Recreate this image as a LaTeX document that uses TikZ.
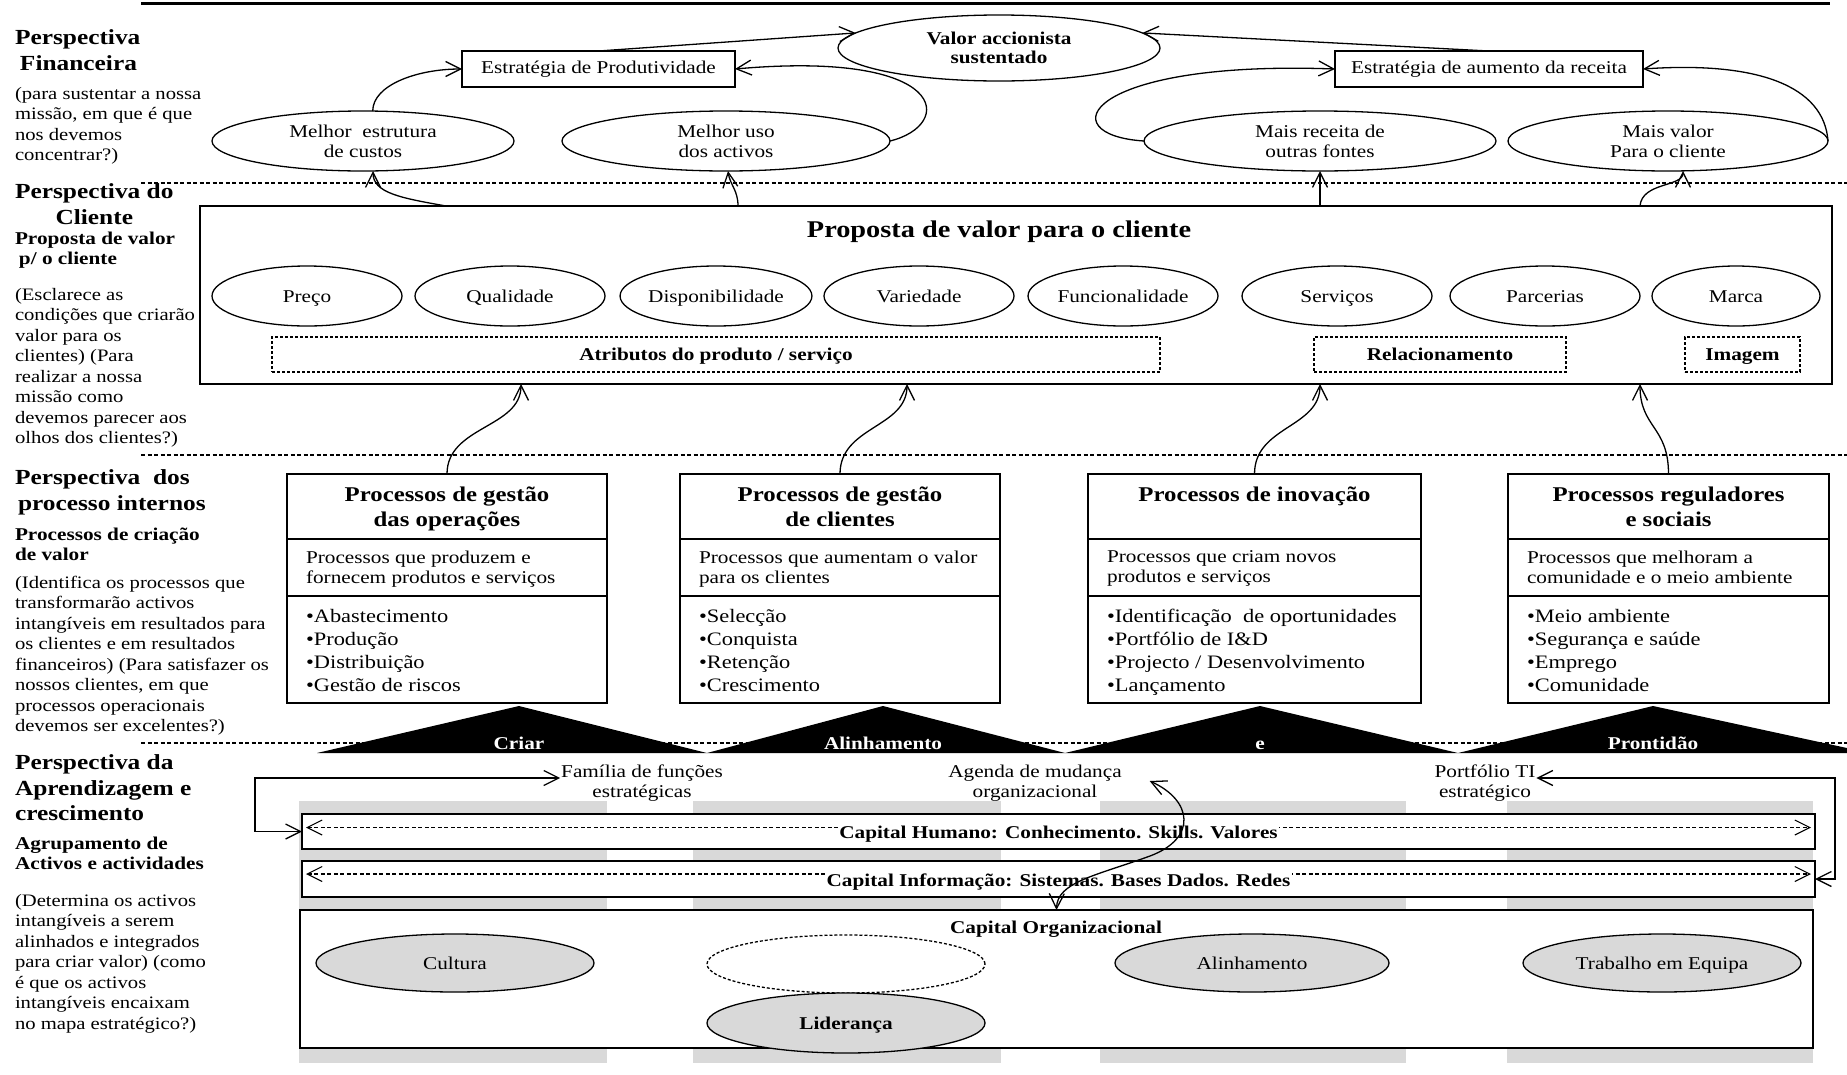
\documentclass[tikz,border=0pt]{standalone}
\usepackage{fontspec}
\setmainfont{Liberation Serif}[FakeStretch=1.18]
\usetikzlibrary{arrows.meta,shapes.geometric,calc}
\definecolor{colgray}{RGB}{217,217,217}
\newcommand\mybody{\fontsize{17.5}{20.5}\selectfont}
\newcommand\myhead{\fontsize{21.5}{25.5}\selectfont\bfseries}
\newcommand\mysub{\fontsize{18}{20}\selectfont\bfseries}
\newcommand\mytext{\fontsize{18}{20}\selectfont}
\newcommand\mybtitle{\fontsize{21}{25}\selectfont\bfseries}
\newcommand\mybig{\fontsize{24}{28}\selectfont\bfseries}
\newcommand\mybul{\fontsize{19}{23}\selectfont}
% one internal-process box: name, left x, width, title, description, bullet list
\newcommand\procbox[6]{%
  \node[box, anchor=north west, minimum width=#3, minimum height=229pt] (#1) at (#2,474) {};
  \draw[line width=1.3pt] ($(#1.north west)+(0,65)$) -- ($(#1.north east)+(0,65)$);
  \draw[line width=2.6pt] ($(#1.north west)+(0,122)$) -- ($(#1.north east)+(0,122)$);
  \node[font=\mybtitle, align=center, anchor=north] at ($(#1.north)+(0,13)$) {#4};
  \node[font=\mytext, align=left, anchor=north west] at ($(#1.north west)+(19,77)$) {#5};
  \node[font=\mybul, align=left, anchor=north west] at ($(#1.north west)+(19,135)$) {#6};
}
\begin{document}
\begin{tikzpicture}[x=1pt,y=-1pt,
  every node/.style={inner sep=0pt, outer sep=0pt},
  box/.style={draw, line width=1.4pt, fill=white},
  ell/.style={ellipse, draw, line width=1.3pt, fill=white, align=center, font=\mytext},
  oneline/.style={text height=14pt, text depth=2pt},
  gell/.style={ell, oneline, fill=colgray},
  dbox/.style={draw, line width=1.2pt, dash pattern=on 3pt off 2pt, font=\mysub},
  sepline/.style={line width=1.1pt, dash pattern=on 4pt off 2.5pt},
  conn/.style={line width=1.3pt},
  dconn/.style={line width=1.1pt, dash pattern=on 4pt off 2.5pt},
  >={Straight Barb[length=15pt,width=15pt]},
  chev/.style={font=\mysub, text=white, anchor=base},
  left text/.style={align=left, anchor=north west}]
\useasboundingbox (0,0) rectangle (1847,1074);

% header rule and perspective separators
\draw[line width=3pt] (141,3) -- (1830,3);
\draw[sepline] (141,183) -- (1847,183);
\draw[sepline] (141,455) -- (1847,455);
\draw[sepline] (141,743) -- (1847,743);

% ---------- financial perspective ----------
\node[ell, font=\mysub, minimum width=322pt, minimum height=66pt] (valor) at (999,48) {Valor accionista\\[-1pt]sustentado};
\node[box, font=\mytext, minimum width=273pt, minimum height=36pt] (prod) at (598.5,69) {Estratégia de Produtividade};
\node[box, font=\mytext, minimum width=308pt, minimum height=36pt] (rec) at (1489,69) {Estratégia de aumento da receita};
\node[ell, minimum width=302pt, minimum height=60pt] (e1) at (363,141) {Melhor\ \ estrutura\\de custos};
\node[ell, minimum width=328pt, minimum height=60pt] (e2) at (726,141) {Melhor uso\\dos activos};
\node[ell, minimum width=352pt, minimum height=60pt] (e3) at (1320,141) {Mais receita de\\outras fontes};
\node[ell, minimum width=320pt, minimum height=60pt] (e4) at (1668,141) {Mais valor\\Para o cliente};

\draw[conn,->] (prod.north) -- (valor.174);
\draw[conn,->] (rec.north) -- (valor.6);
\draw[conn,->] (e1.72) .. controls +(0,-26) and +(-45,0) .. (prod.west);
\draw[conn,->] (e2.east) .. controls +(65,-16) and +(215,-19) .. (prod.east);
\draw[conn,->] (e3.west) .. controls +(-95,-6) and +(-250,-9) .. (rec.west);
\draw[conn,->] (e4.east) .. controls +(-4,-55) and +(115,-8) .. (rec.east);

% ---------- customer perspective ----------
\node[box, anchor=north west, minimum width=1632pt, minimum height=178pt] (cv) at (200,206) {};
\node[font=\mybig, anchor=base] (cvt) at (999,237) {Proposta de valor para o cliente};
\foreach \nm/\xx/\ww/\lb in {a1/307/190/Preço, a2/510/190/Qualidade, a3/716/190/Disponibilidade,
    a4/919/190/Variedade, a5/1123/190/Funcionalidade, a6/1337/190/Serviços,
    a7/1545/190/Parcerias, a8/1736/168/Marca}
  \node[ell, oneline, minimum width=\ww pt, minimum height=60pt] (\nm) at (\xx,296) {\lb};
\node[dbox, oneline, minimum width=888pt, minimum height=35pt] (atr) at (716,354.5) {Atributos do produto / serviço};
\node[dbox, oneline, minimum width=252pt, minimum height=35pt] (rel) at (1440,354.5) {Relacionamento};
\node[dbox, oneline, minimum width=115pt, minimum height=35pt] (img) at (1742.5,354.5) {Imagem};

\draw[conn,->] ($(cv.north west)+(246,0)$) .. controls +(-45,-8) and +(0,22) .. ($(e1.south)+(10,0)$);
\draw[conn,->] ($(cv.north west)+(538,0)$) .. controls +(0,-16) and +(2,14) .. ($(e2.south)+(2,0)$);
\draw[conn,->] ($(cv.north west)+(1120,0)$) -- (e3.south);
\draw[conn,->] ($(cv.north west)+(1440,0)$) .. controls +(2,-24) and +(0,16) .. ($(e4.south)+(15,0)$);

% ---------- internal process perspective ----------
\procbox{p1}{287}{320pt}{Processos de gestão\\das operações}{Processos que produzem e\\fornecem produtos e serviços}{•Abastecimento\\•Produção\\•Distribuição\\•Gestão de riscos}
\procbox{p2}{680}{320pt}{Processos de gestão\\de clientes}{Processos que aumentam o valor\\para os clientes}{•Selecção\\•Conquista\\•Retenção\\•Crescimento}
\procbox{p3}{1088}{333pt}{Processos de inovação}{Processos que criam novos\\produtos e serviços}{•Identificação\ \ de oportunidades\\•Portfólio de I\&D\\•Projecto / Desenvolvimento\\•Lançamento}
\procbox{p4}{1508}{321pt}{Processos reguladores\\e sociais}{Processos que melhoram a\\comunidade e o meio ambiente}{•Meio ambiente\\•Segurança e saúde\\•Emprego\\•Comunidade}

\draw[conn,->] (p1.north) .. controls +(0,-48) and +(0,44) .. ($(cv.south west)+(321,0)$);
\draw[conn,->] (p2.north) .. controls +(0,-48) and +(0,44) .. ($(cv.south west)+(707,0)$);
\draw[conn,->] (p3.north) .. controls +(0,-48) and +(0,44) .. ($(cv.south west)+(1120,0)$);
\draw[conn,->] (p4.north) .. controls +(0,-48) and +(0,44) .. ($(cv.south west)+(1440,0)$);

% ---------- chevron band ----------
\fill (317,753) -- (519,706) -- (707,753) -- cycle;
\fill (707,753) -- (883,706) -- (1065,753) -- cycle;
\fill (1065,753) -- (1260,706) -- (1458,753) -- cycle;
\fill (1458,753) -- (1653,706) -- (1870,753) -- cycle;
\node[chev] (c1) at (519,749) {Criar};
\node[chev] (c2) at (883,749) {Alinhamento};
\node[chev] (c3) at (1260,749) {e};
\node[chev] (c4) at (1653,749) {Prontidão};

% ---------- learning and growth perspective ----------
\fill[colgray] (299,801) rectangle (607,1063);
\fill[colgray] (693,801) rectangle (1001,1063);
\fill[colgray] (1100,801) rectangle (1406,1063);
\fill[colgray] (1507,801) rectangle (1813,1063);

\node[box, anchor=north west, minimum width=1513pt, minimum height=35pt] (ch) at (302,814) {};
\node[box, anchor=north west, minimum width=1513pt, minimum height=36pt] (ci) at (302,861) {};
\node[box, anchor=north west, minimum width=1513pt, minimum height=138pt] (co) at (300,910) {};

\draw[dconn,<->] ($(ch.west)+(4,-4)$) -- ($(ch.east)+(-4,-4)$);
\node[fill=white, font=\mysub, oneline, inner sep=1.5pt] (cht) at ($(ch.center)+(0,1)$) {Capital Humano: Conhecimento. Skills. Valores};
\draw[dconn,<->] ($(ci.west)+(4,-5)$) -- ($(ci.east)+(-4,-5)$);
\node[fill=white, font=\mysub, oneline, inner sep=1.5pt] (cit) at ($(ci.center)+(0,1)$) {Capital Informação: Sistemas. Bases Dados. Redes};

\node[font=\mysub, anchor=base] (cot) at (1056,933) {Capital Organizacional};
\node[gell, minimum width=278pt, minimum height=58pt] (cul) at (455,963) {Cultura};
\node[ell, fill=none, dash pattern=on 3pt off 2pt, minimum width=278pt, minimum height=58pt] (blank) at (846,964) {};
\node[gell, font=\mysub, minimum width=278pt, minimum height=60pt] (lid) at (846,1023) {Liderança};
\node[gell, minimum width=274pt, minimum height=58pt] (ali) at (1252,963) {Alinhamento};
\node[gell, minimum width=278pt, minimum height=58pt] (tra) at (1662,963) {Trabalho em Equipa};

\node[font=\mytext, align=center] (fam) at (642,783) {Família de funções\\estratégicas};
\node[font=\mytext, align=center] (agenda) at (1035,783) {Agenda de mudança\\organizacional};
\node[font=\mytext, align=center] (port) at (1485,783) {Portfólio TI\\estratégico};

\draw[conn,<->] ($(fam.west)+(-1,-5)$) -| ($(ch.west)+(-47,0)$) -- (ch.west);
\draw[conn,<->] ($(port.east)+(1,-5)$) -| ($(ci.east)+(20,0)$) -- (ci.east);
\draw[conn,<->] ($(agenda.east)+(28,-2)$) .. controls (1192,800) and (1198,838) .. (1150,856)
   .. controls (1095,876) and (1057,882) .. (co.north);

% ---------- left column: perspective names and questions ----------
\node[font=\myhead, left text] (l1) at (15,30) {Perspectiva\\\hspace*{5pt}Financeira};
\node[font=\mybody, left text] (l2) at (15,87) {(para sustentar a nossa\\missão, em que é que\\nos devemos\\concentrar?)};
\node[font=\myhead, align=center, anchor=north west] (l3) at (15,184) {Perspectiva do\\Cliente};
\node[font=\mysub, left text] (l4) at (15,232) {Proposta de valor\\\hspace*{4pt}p/ o cliente};
\node[font=\mybody, left text] (l5) at (15,288) {(Esclarece as\\condições que criarão\\valor para os\\clientes) (Para\\realizar a nossa\\missão como\\devemos parecer aos\\olhos dos clientes?)};
\node[font=\myhead, left text] (l6) at (15,470) {Perspectiva\ \ dos\\\hspace*{3pt}processo internos};
\node[font=\mysub, left text] (l7) at (15,528) {Processos de criação\\de valor};
\node[font=\mybody, left text] (l8) at (15,576) {(Identifica os processos que\\transformarão activos\\intangíveis em resultados para\\os clientes e em resultados\\financeiros) (Para satisfazer os\\nossos clientes, em que\\processos operacionais\\devemos ser excelentes?)};
\node[font=\myhead, left text] (l9) at (15,755) {Perspectiva da\\Aprendizagem e\\crescimento};
\node[font=\mysub, left text] (l10) at (15,837) {Agrupamento de\\Activos e actividades};
\node[font=\mybody, left text] (l11) at (15,894) {(Determina os activos\\intangíveis a serem\\alinhados e integrados\\para criar valor) (como\\é que os activos\\intangíveis encaixam\\no mapa estratégico?)};
\end{tikzpicture}
\end{document}
